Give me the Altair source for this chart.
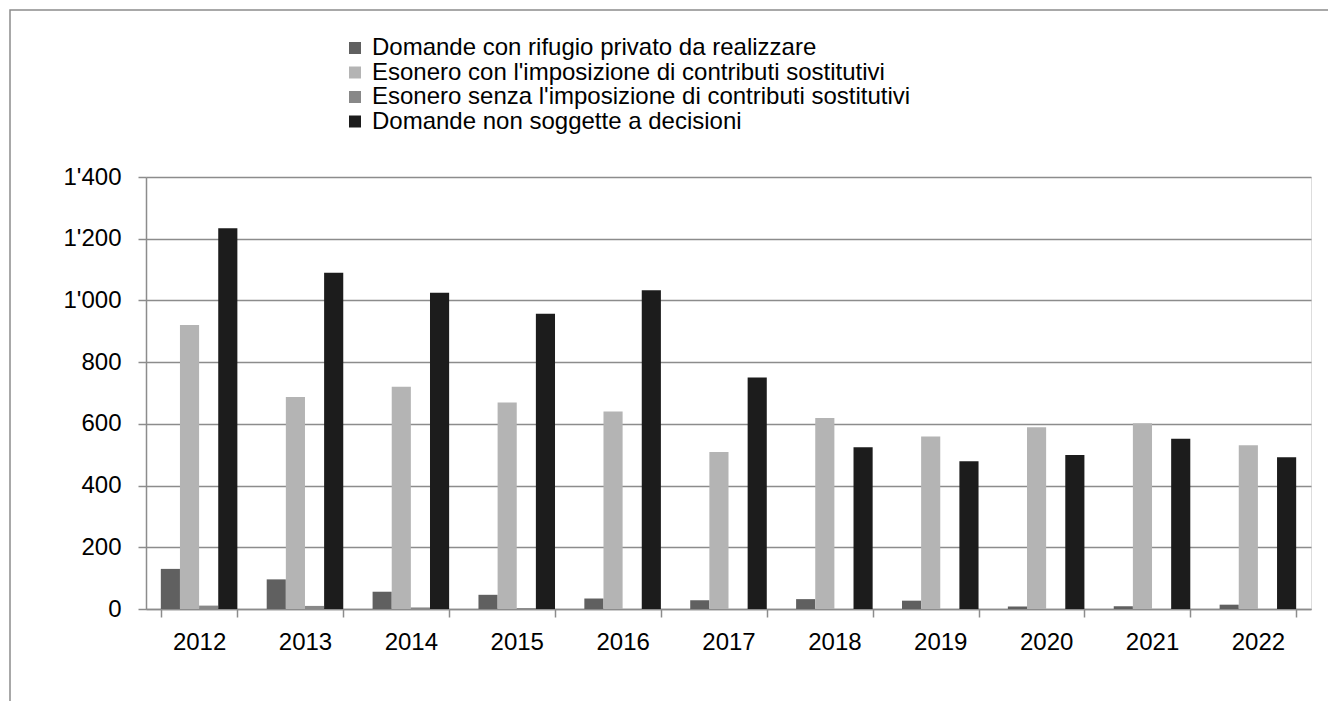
import altair as alt
import pandas as pd

years = ["2012", "2013", "2014", "2015", "2016", "2017", "2018", "2019", "2020", "2021", "2022"]
series_names = [
    "Domande con rifugio privato da realizzare",
    "Esonero con l'imposizione di contributi sostitutivi",
    "Esonero senza l'imposizione di contributi sostitutivi",
    "Domande non soggette a decisioni",
]
series_colors = ["#606060", "#b4b4b4", "#888888", "#1c1c1c"]
rifugio = [130, 96, 56, 46, 34, 28, 32, 27, 8, 9, 14]
esonero_con = [920, 687, 720, 669, 640, 509, 619, 559, 589, 602, 531]
esonero_senza = [11, 10, 5, 3, 0, 0, 0, 0, 0, 0, 0]
non_soggette = [1234, 1090, 1025, 957, 1033, 750, 524, 479, 499, 552, 492]

values = [rifugio, esonero_con, esonero_senza, non_soggette]
rows = []
for s_idx, name in enumerate(series_names):
    for y, v in zip(years, values[s_idx]):
        rows.append({"anno": y, "serie": name, "valore": v, "ordine": s_idx})
df = pd.DataFrame(rows)

FONT = "Liberation Sans"
GRID = "#8c8c8c"

bars = alt.Chart(df).mark_bar().encode(
    x=alt.X(
        "anno:N",
        sort=years,
        title=None,
        scale=alt.Scale(paddingInner=0.277, paddingOuter=0.14),
        axis=alt.Axis(
            labelAngle=0,
            labelFontSize=24,
            labelFont=FONT,
            labelColor="#000000",
            labelPadding=13,
            tickBand="extent",
            tickSize=8,
            tickColor=GRID,
            tickWidth=1.5,
            domainColor=GRID,
            domainWidth=1.5,
            grid=False,
        ),
    ),
    xOffset=alt.XOffset(
        "serie:N",
        sort=series_names,
        scale=alt.Scale(paddingInner=0, paddingOuter=0),
    ),
    y=alt.Y(
        "valore:Q",
        title=None,
        scale=alt.Scale(domain=[0, 1400], nice=False),
        axis=alt.Axis(
            values=[0, 200, 400, 600, 800, 1000, 1200, 1400],
            labelExpr="replace(format(datum.value, ','), ',', \"'\")",
            labelFontSize=24,
            labelFont=FONT,
            labelColor="#000000",
            labelPadding=17,
            tickSize=8,
            tickColor=GRID,
            tickWidth=1.5,
            domainColor=GRID,
            domainWidth=1.5,
            gridColor=GRID,
            gridWidth=1.5,
        ),
    ),
    color=alt.Color(
        "serie:N",
        sort=series_names,
        scale=alt.Scale(domain=series_names, range=series_colors),
        legend=alt.Legend(
            title=None,
            orient="none",
            legendX=197,
            legendY=-141,
            symbolType="square",
            symbolSize=144,
            symbolStrokeWidth=0,
            symbolOpacity=1,
            labelFontSize=24,
            labelFont=FONT,
            labelColor="#000000",
            labelOffset=5,
            rowPadding=0.5,
            padding=0,
            labelLimit=900,
        ),
    ),
)

frame = alt.Chart(alt.Data(values=[{"k": 1}])).mark_rect(
    filled=False, stroke=GRID, strokeWidth=1.5
).encode(
    x=alt.value(-136),
    x2=alt.value(1400),
    y=alt.value(-167),
    y2=alt.value(900),
)

chart = alt.layer(frame, bars).properties(
    width=1165,
    height=432,
    autosize=alt.AutoSizeParams(type="none"),
    padding={"left": 138, "top": 169, "right": 17, "bottom": 92},
).configure_view(strokeWidth=0).configure(font=FONT)

chart.save("out.html", embed_options={"renderer": "svg", "actions": False})
